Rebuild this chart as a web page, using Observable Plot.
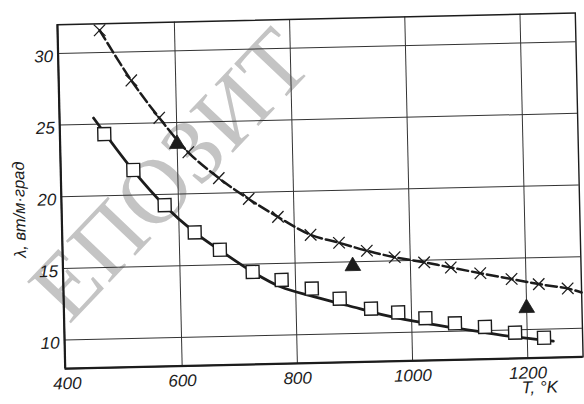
<!DOCTYPE html>
<html>
<head>
<meta charset="utf-8">
<script src="https://cdn.jsdelivr.net/npm/d3@7"></script>
<script src="https://cdn.jsdelivr.net/npm/@observablehq/plot@0.6"></script>
<style>
  html, body { margin: 0; padding: 0; background: #ffffff; }
  #chart { width: 584px; height: 404px; overflow: hidden; }
</style>
</head>
<body>
<div id="chart"></div>
<script>
// --- data ---
const crossT = [470, 523, 570, 619, 671, 722, 772, 828, 877, 925, 973, 1024, 1070, 1121, 1175, 1222, 1272];
const crossL = [31.55, 28.0, 25.35, 22.9, 21.05, 19.55, 18.25, 16.95, 16.35, 15.75, 15.25, 14.85, 14.45, 14.0, 13.55, 13.15, 12.8];
const dashEndT = [1296];
const dashEndL = [12.5];

const squareT = [474, 523, 576, 627, 670, 726, 776, 828, 876, 930, 977, 1024, 1075, 1127, 1179, 1229];
const squareL = [24.3, 21.75, 19.25, 17.3, 16.05, 14.45, 13.85, 13.2, 12.45, 11.7, 11.4, 10.95, 10.55, 10.25, 9.8, 9.4];

const solidT = [456, 523, 576, 627, 674, 726, 774, 831, 890, 947, 1004, 1064, 1121, 1178, 1245];
const solidL = [25.44, 21.7, 19.2, 17.3, 15.9, 14.45, 13.37, 12.63, 11.96, 11.29, 10.76, 10.29, 9.9, 9.5, 9.15];

const triT = [600, 900, 1200];
const triL = [23.5, 14.7, 11.5];

const xTicks = [400, 600, 800, 1000, 1200];
const yTicks = [10, 15, 20, 25, 30];
const xGrid = [600, 800, 1000, 1200];
const yGrid = [10, 15, 20, 25, 30];
const xLabel = "T, °K";
const yLabel = "λ, вт/м·град";
const watermark = "ЕПОЗИТ";

// --- tables built from the arrays ---
const crosses = crossT.map((t, i) => ({T: t, L: crossL[i]}));
const dashed = crosses.concat(dashEndT.map((t, i) => ({T: t, L: dashEndL[i]})));
const squares = squareT.map((t, i) => ({T: t, L: squareL[i]}));
const solid = solidT.map((t, i) => ({T: t, L: solidL[i]}));
const tris = triT.map((t, i) => ({T: t, L: triL[i]}));

const ink = "#1c1c1c";
const font = "'Liberation Sans', Arimo, sans-serif";

const svg = Plot.plot({
  width: 584,
  height: 404,
  marginLeft: 61,
  marginRight: 5,
  marginTop: 19,
  marginBottom: 41,
  style: {background: "transparent", fontFamily: font, overflow: "visible"},
  x: {domain: [397, 1296], axis: null},
  y: {domain: [8, 32], axis: null},
  marks: [
    // scan watermark (behind everything)
    Plot.text([watermark], {
      frameAnchor: "middle", text: d => d, rotate: -45.2,
      dx: -149, dy: -19, fontSize: 92, fontFamily: "'Liberation Serif', 'DejaVu Serif', serif",
      fill: "#c4c4c4", textAnchor: "middle"
    }),
    // grid
    Plot.ruleX(xGrid, {stroke: "#333", strokeWidth: 1}),
    Plot.ruleY(yGrid, {stroke: "#333", strokeWidth: 1}),
    Plot.frame({stroke: ink, strokeWidth: 1.4}),
    Plot.ruleX([397], {stroke: ink, strokeWidth: 2.2}),
    Plot.ruleY([8], {stroke: ink, strokeWidth: 2.2}),
    // curves
    Plot.line(solid, {x: "T", y: "L", curve: "catmull-rom", stroke: ink, strokeWidth: 2.8}),
    Plot.line(dashed, {x: "T", y: "L", curve: "catmull-rom", stroke: ink, strokeWidth: 2.5, strokeDasharray: "11,4"}),
    // markers
    Plot.dot(squares, {x: "T", y: "L", symbol: "square", r: 7.3, fill: "white", stroke: ink, strokeWidth: 1.4}),
    Plot.dot(crosses, {x: "T", y: "L", symbol: "times", r: 5.3, stroke: ink, strokeWidth: 1.3}),
    Plot.dot(tris, {x: "T", y: "L", symbol: "triangle", r: 5.8, fill: ink, stroke: ink, strokeWidth: 0.8}),
    // tick labels
    Plot.text(xTicks, {x: d => d, y: 8, text: d => String(d), dy: 15, fontSize: 17, fontStyle: "italic", fill: ink, textAnchor: "middle"}),
    Plot.text(yTicks, {x: 397, y: d => d, text: d => String(d), dx: -5, dy: 3, fontSize: 17, fontStyle: "italic", fill: ink, textAnchor: "end"}),
    // axis titles
    Plot.text([xLabel], {frameAnchor: "bottom-right", text: d => d, dx: -44, dy: 35, fontSize: 17, fontStyle: "italic", fill: ink, textAnchor: "middle"}),
    Plot.text([yLabel], {frameAnchor: "left", text: d => d, rotate: -90, dx: -42, dy: 12, fontSize: 16.5, fontStyle: "italic", fill: ink, textAnchor: "middle"})
  ]
});
svg.style.transformOrigin = "292px 202px";
svg.style.transform = "rotate(-1.3deg)";
document.getElementById("chart").appendChild(svg);
</script>
</body>
</html>
